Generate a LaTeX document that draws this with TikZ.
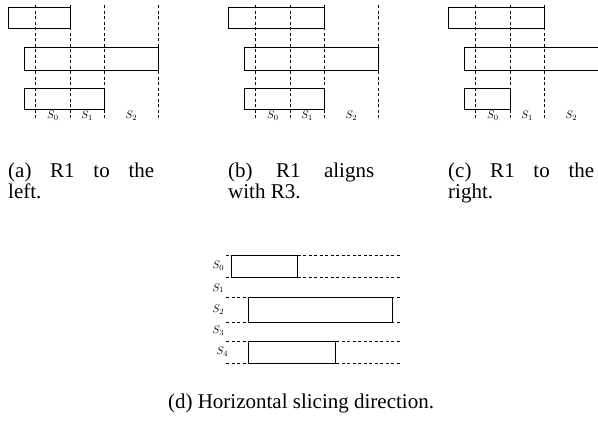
\documentclass[tikz,border=0pt]{standalone}
\usepackage{fontspec}
\setmainfont{Liberation Serif}
\begin{document}
\begin{tikzpicture}[x=1pt,y=-1pt,
  box/.style={draw,line width=0.9pt},
  guide/.style={draw,line width=0.7pt,dash pattern=on 3pt off 2.5pt},
  slabel/.style={inner sep=0pt,font=\fontsize{11}{13}\selectfont},
  capt/.style={anchor=base west,inner sep=0pt,text width=146pt,align=justify,
    font=\fontsize{21}{21}\selectfont}]
\useasboundingbox (0,0) rectangle (598,426);
% panels a, b, c
\foreach \ox/\tr/\br/\nm/\txt in {0/70/104.3/a/{(a) R1 to the\linebreak left.},
  220/104.3/104.3/b/{(b) R1 aligns\linebreak with R3.},
  440/104.3/70/c/{(c) R1 to the\linebreak right.}}{
  \begin{scope}[xshift=\ox pt]
    \foreach \gx in {35.7,70,104.3,158.3}
      \draw[guide] (\gx,5) -- (\gx,119);
    \draw[box] (8.3,7.3) rectangle (\tr,28.3);
    \draw[box] (24,47.7) rectangle (158.3,70.7);
    \draw[box] (24,88.3) rectangle (\br,109);
    \node[slabel] (\nm s0) at (52.9,116) {$S_0$};
    \node[slabel] (\nm s1) at (87.2,116) {$S_1$};
    \node[slabel] (\nm s2) at (131.3,116) {$S_2$};
    \node[capt] (\nm cap) at (8,177) {\txt};
  \end{scope}}
% panel d
\foreach \gy in {255,277,297.7,322,341.7,363.3}
  \draw[guide] (226,\gy) -- (400,\gy);
\draw[box] (231.7,255) rectangle (297.7,277);
\draw[box] (248.3,297.7) rectangle (392.7,322);
\draw[box] (248.3,341.7) rectangle (335,363.3);
\node[slabel,anchor=west] (d0) at (212.5,266) {$S_0$};
\node[slabel,anchor=west] (d1) at (212.5,288.3) {$S_1$};
\node[slabel,anchor=west] (d2) at (212.5,310) {$S_2$};
\node[slabel,anchor=west] (d3) at (212.5,330.7) {$S_3$};
\node[slabel,anchor=west] (d4) at (216.5,352) {$S_4$};
\node[anchor=base,inner sep=0pt,font=\fontsize{21}{21}\selectfont] (dcap) at (301,408) {(d) Horizontal slicing direction.};
\end{tikzpicture}
\end{document}
